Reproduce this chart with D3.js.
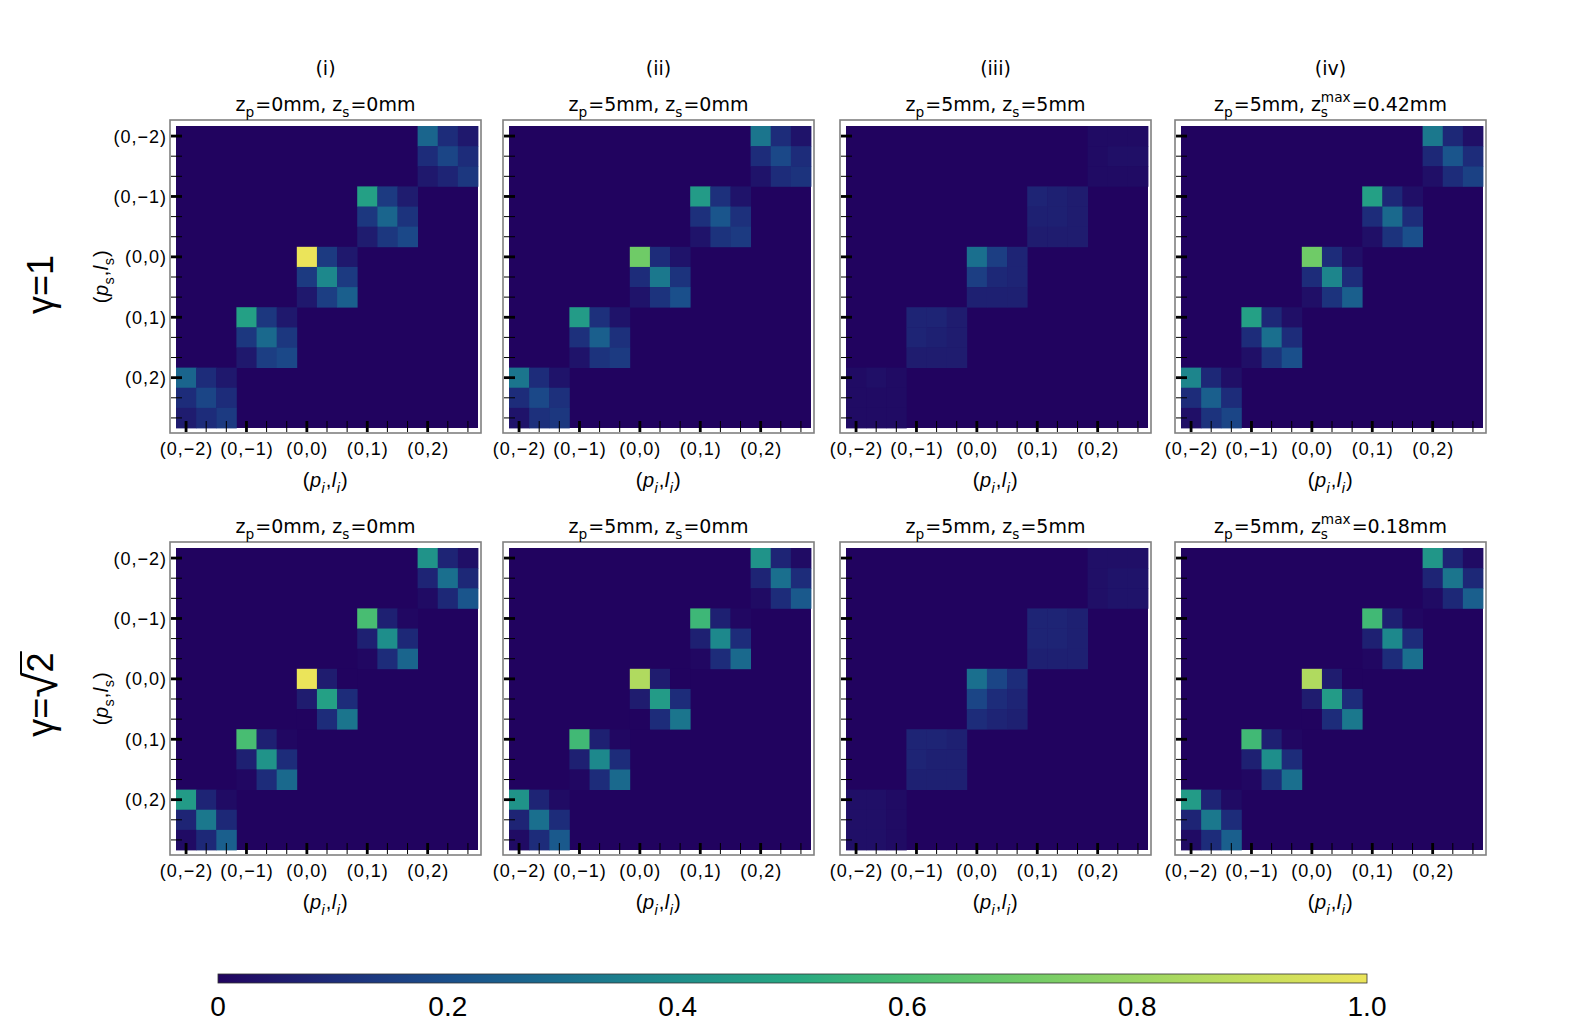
<!DOCTYPE html>
<html><head><meta charset="utf-8">
<script src="https://cdn.jsdelivr.net/npm/d3@7"></script>
<style>body{margin:0;background:#fff}</style>
</head><body>
<svg id="chart" width="1578" height="1036"></svg>
<script>
// ---------------- DATA ----------------
const groupLabels = ["(0,\u22122)", "(0,\u22121)", "(0,0)", "(0,1)", "(0,2)"];
const subLabels = ["a", "b", "c"]; // three sub-modes per (p,l) group
const columnHeaders = ["(i)", "(ii)", "(iii)", "(iv)"];
const colorbarTicks = [0, 0.2, 0.4, 0.6, 0.8, 1.0];
const colorbarTickLabels = ["0", "0.2", "0.4", "0.6", "0.8", "1.0"];
// panel titles: [zp value, zs label kind, zs value]
const titlesRow1 = [["0mm", "s", "0mm"], ["5mm", "s", "0mm"], ["5mm", "s", "5mm"], ["5mm", "max", "0.42mm"]];
const titlesRow2 = [["0mm", "s", "0mm"], ["5mm", "s", "0mm"], ["5mm", "s", "5mm"], ["5mm", "max", "0.18mm"]];

// Each panel: 5 diagonal 3x3 blocks, listed by signal group (p_s,l_s) = (0,-2) ... (0,2)
// each block is row-major 3x3
const g1_i = [
  [0.27,0.10,0.05, 0.10,0.17,0.10, 0.05,0.08,0.13],
  [0.47,0.14,0.06, 0.13,0.27,0.12, 0.06,0.13,0.18],
  [1.00,0.14,0.05, 0.14,0.38,0.14, 0.05,0.15,0.25],
  [0.47,0.13,0.05, 0.13,0.28,0.13, 0.05,0.15,0.18],
  [0.27,0.10,0.05, 0.10,0.17,0.10, 0.06,0.10,0.14]
];
const g1_ii = [
  [0.32,0.10,0.04, 0.10,0.18,0.10, 0.04,0.10,0.12],
  [0.45,0.11,0.04, 0.11,0.22,0.11, 0.04,0.12,0.14],
  [0.70,0.10,0.04, 0.10,0.33,0.12, 0.04,0.12,0.20],
  [0.45,0.11,0.04, 0.11,0.25,0.11, 0.04,0.12,0.14],
  [0.32,0.10,0.04, 0.10,0.18,0.11, 0.04,0.11,0.13]
];
const g1_iii = [
  [0.02,0.02,0.02, 0.02,0.03,0.03, 0.02,0.02,0.02],
  [0.08,0.07,0.06, 0.07,0.07,0.06, 0.06,0.06,0.06],
  [0.30,0.15,0.08, 0.15,0.09,0.08, 0.07,0.07,0.07],
  [0.08,0.08,0.06, 0.08,0.07,0.06, 0.06,0.06,0.06],
  [0.02,0.03,0.02, 0.02,0.02,0.02, 0.02,0.02,0.02]
];
const g1_iv = [
  [0.33,0.09,0.03, 0.09,0.22,0.10, 0.03,0.10,0.16],
  [0.47,0.09,0.03, 0.10,0.28,0.10, 0.03,0.12,0.20],
  [0.70,0.10,0.03, 0.10,0.37,0.10, 0.03,0.12,0.25],
  [0.47,0.09,0.03, 0.10,0.30,0.10, 0.03,0.12,0.20],
  [0.37,0.09,0.03, 0.10,0.25,0.10, 0.03,0.12,0.17]
];
const g2_i = [
  [0.42,0.08,0.03, 0.08,0.30,0.09, 0.02,0.09,0.22],
  [0.60,0.07,0.01, 0.07,0.40,0.09, 0.01,0.10,0.27],
  [1.00,0.06,0.00, 0.06,0.47,0.10, 0.00,0.10,0.32],
  [0.60,0.07,0.01, 0.07,0.42,0.10, 0.01,0.10,0.28],
  [0.45,0.08,0.02, 0.08,0.33,0.09, 0.02,0.09,0.25]
];
const g2_ii = [
  [0.42,0.08,0.02, 0.08,0.30,0.10, 0.02,0.10,0.23],
  [0.57,0.07,0.01, 0.07,0.38,0.10, 0.01,0.10,0.28],
  [0.85,0.06,0.00, 0.06,0.45,0.10, 0.00,0.10,0.32],
  [0.58,0.07,0.01, 0.07,0.38,0.10, 0.01,0.10,0.28],
  [0.42,0.08,0.02, 0.08,0.30,0.10, 0.02,0.10,0.23]
];
const g2_iii = [
  [0.03,0.03,0.03, 0.03,0.04,0.04, 0.03,0.04,0.04],
  [0.08,0.08,0.07, 0.08,0.08,0.07, 0.07,0.07,0.07],
  [0.30,0.17,0.10, 0.17,0.10,0.08, 0.10,0.08,0.07],
  [0.08,0.08,0.07, 0.08,0.07,0.07, 0.07,0.07,0.07],
  [0.03,0.03,0.02, 0.03,0.03,0.02, 0.03,0.03,0.02]
];
const g2_iv = [
  [0.43,0.08,0.02, 0.08,0.32,0.09, 0.02,0.09,0.25],
  [0.58,0.07,0.01, 0.07,0.38,0.10, 0.01,0.10,0.30],
  [0.85,0.06,0.00, 0.06,0.45,0.10, 0.00,0.10,0.33],
  [0.58,0.07,0.01, 0.07,0.40,0.10, 0.01,0.10,0.30],
  [0.45,0.08,0.02, 0.08,0.33,0.10, 0.02,0.10,0.25]
];
const panelsRow1 = [g1_i, g1_ii, g1_iii, g1_iv];
const panelsRow2 = [g2_i, g2_ii, g2_iii, g2_iv];

// ---------------- STYLE / LAYOUT ----------------
const colorStops = ["#21035f","#1d2c7a","#1a4f8b","#1a6f8e","#1e8e8b","#27a882","#48bd72","#6fcb67","#9ad562","#c5de5c","#ebe45a"];
const interp = d3.piecewise(d3.interpolateRgb, colorStops);
const color = d3.scaleSequential(interp).domain([0, 1]);

const FONT = "Liberation Sans, Arial, sans-serif";
const svg = d3.select("#chart");
const frameX = [170, 503, 840, 1175];
const frameY = [120, 542];
const frameW = 311, frameH = 313, pad = 6, plotSize = 302;

// 15 categories: each group has 3 sub-modes
const cats = [];
groupLabels.forEach((g, gi) => subLabels.forEach((s, si) => cats.push(gi * 3 + si)));

function buildCells(blocks) {
  const cells = [];
  blocks.forEach((blk, g) => {
    const cg = 4 - g; // idler group anti-correlated with signal group
    for (let r = 0; r < 3; r++) for (let c = 0; c < 3; c++) {
      cells.push({ row: g * 3 + r, col: cg * 3 + c, v: blk[r * 3 + c] });
    }
  });
  return cells;
}

function richText(parent, x, y, parts, fs, family, anchor, ls) {
  const g = parent.append("g");
  let cx = 0;
  const items = [];
  parts.forEach(p => {
    if (p.t !== undefined) {
      const f = p.fs || fs;
      const t = g.append("text").attr("x", cx).attr("y", p.dy || 0)
        .attr("font-family", family).attr("font-size", f).attr("fill", "#000")
        .attr("letter-spacing", ls || 0)
        .attr("font-style", p.it ? "italic" : "normal").text(p.t);
      const w = t.node().getComputedTextLength();
      items.push({ node: t, x: cx, w });
      cx += w;
    } else {
      let w = 0;
      if (p.sub !== undefined) {
        const t = g.append("text").attr("x", cx).attr("y", fs * 0.3)
          .attr("font-family", family).attr("font-size", fs * 0.72).attr("fill", "#000")
          .attr("font-style", p.subIt ? "italic" : "normal").text(p.sub);
        w = Math.max(w, t.node().getComputedTextLength());
      }
      if (p.sup !== undefined) {
        const t = g.append("text").attr("x", cx).attr("y", -fs * 0.45)
          .attr("font-family", family).attr("font-size", fs * 0.72).attr("fill", "#000").text(p.sup);
        w = Math.max(w, t.node().getComputedTextLength());
      }
      items.push({ x: cx, w });
      cx += w + 1;
    }
  });
  const off = anchor === "middle" ? -cx / 2 : 0;
  g.attr("transform", `translate(${x + off},${y})`);
  return { g, width: cx, items };
}

function titleParts(t) {
  const zs = t[1] === "max" ? { sub: "s", sup: "max" } : { sub: "s" };
  return [{ t: "z" }, { sub: "p" }, { t: "=" + t[0] + ", z" }, zs, { t: "=" + t[2] }];
}

function drawPanel(blocks, fx, fy, title, showY) {
  const g = svg.append("g");
  const px = fx + pad, py = fy + pad;
  const x = d3.scaleBand().domain(cats).range([px, px + plotSize]);
  const y = d3.scaleBand().domain(cats).range([py, py + plotSize]);
  // zero-valued background of the matrix
  g.append("rect").attr("x", px).attr("y", py).attr("width", plotSize).attr("height", plotSize)
    .attr("fill", color(0));
  g.selectAll("rect.cell").data(buildCells(blocks)).join("rect")
    .attr("class", "cell")
    .attr("x", d => x(d.col)).attr("y", d => y(d.row))
    .attr("width", x.bandwidth() + 0.4).attr("height", y.bandwidth() + 0.4)
    .attr("fill", d => color(d.v));
  // frame
  g.append("rect").attr("x", fx).attr("y", fy).attr("width", frameW).attr("height", frameH)
    .attr("fill", "none").attr("stroke", "#808080").attr("stroke-width", 1.6);
  // ticks
  const bx = fx + 1, by = fy + frameH - 1;
  cats.forEach(c => {
    const major = c % 3 === 0;
    g.append("line").attr("x1", x(c) + x.bandwidth() / 2).attr("x2", x(c) + x.bandwidth() / 2)
      .attr("y1", by).attr("y2", by - 11).attr("stroke", "#000").attr("stroke-width", major ? 2.8 : 1);
    g.append("line").attr("y1", y(c) + y.bandwidth() / 2).attr("y2", y(c) + y.bandwidth() / 2)
      .attr("x1", bx).attr("x2", bx + 11).attr("stroke", "#000").attr("stroke-width", major ? 2.8 : 1);
  });
  // tick labels
  groupLabels.forEach((lab, gi) => {
    const c = gi * 3;
    g.append("text").attr("x", x(c) + x.bandwidth() / 2 + 0.5).attr("y", fy + frameH + 22)
      .attr("text-anchor", "middle").attr("font-family", FONT).attr("letter-spacing", 1)
      .attr("font-size", 18).text(lab);
    if (showY) {
      g.append("text").attr("x", fx - 3).attr("y", y(c) + y.bandwidth() / 2 + 6.5)
        .attr("text-anchor", "end").attr("font-family", FONT).attr("letter-spacing", 1)
        .attr("font-size", 18).text(lab);
    }
  });
  // x axis label (p_i, l_i)
  richText(g, fx + frameW / 2, fy + frameH + 54,
    [{ t: "(" }, { t: "p", it: true }, { sub: "i", subIt: true }, { t: "," }, { t: "l", it: true }, { sub: "i", subIt: true }, { t: ")" }],
    20, FONT, "middle", 0.5);
  // title
  richText(g, fx + frameW / 2, fy - 9, titleParts(title), 19, "DejaVu Sans, sans-serif", "middle");
  if (showY) {
    const yl = svg.append("g").attr("transform", `translate(108,${fy + frameH / 2}) rotate(-90)`);
    richText(yl, 0, 0,
      [{ t: "(" }, { t: "p", it: true }, { sub: "s" }, { t: "," }, { t: "l", it: true }, { sub: "s" }, { t: ")" }],
      20, FONT, "middle", 0.5);
  }
}

panelsRow1.forEach((p, i) => drawPanel(p, frameX[i], frameY[0], titlesRow1[i], i === 0));
panelsRow2.forEach((p, i) => drawPanel(p, frameX[i], frameY[1], titlesRow2[i], i === 0));

// column headers
columnHeaders.forEach((h, i) => {
  svg.append("text").attr("x", frameX[i] + frameW / 2).attr("y", 75)
    .attr("text-anchor", "middle").attr("font-family", "DejaVu Sans, sans-serif")
    .attr("font-size", 19).text(h);
});

// row labels
{
  const r1 = svg.append("g").attr("transform", `translate(53,${frameY[0] + frameH / 2 + 8}) rotate(-90)`);
  richText(r1, 0, 0, [{ t: "\u03b3=1" }], 36, FONT, "middle");
  const r2 = svg.append("g").attr("transform", `translate(53,${frameY[1] + frameH / 2 - 4}) rotate(-90)`);
  const rt = richText(r2, 0, 0, [{ t: "\u03b3=" }, { t: "\u221a", fs: 46, dy: 4 }, { t: "2" }], 36, FONT, "middle");
  // overline of the radical
  const it2 = rt.items[2];
  rt.g.append("line").attr("x1", it2.x - 2).attr("x2", it2.x + it2.w + 1).attr("y1", -32).attr("y2", -32)
    .attr("stroke", "#000").attr("stroke-width", 2);
}

// colorbar
{
  const cbX = d3.scaleLinear().domain([0, 1]).range([218, 1367]);
  const defs = svg.append("defs");
  const grad = defs.append("linearGradient").attr("id", "cbgrad");
  d3.range(0, 1.0001, 0.05).forEach(t => grad.append("stop").attr("offset", t).attr("stop-color", color(t)));
  svg.append("rect").attr("x", cbX(0)).attr("y", 974).attr("width", cbX(1) - cbX(0)).attr("height", 9)
    .attr("fill", "url(#cbgrad)").attr("stroke", "#333").attr("stroke-width", 0.8);
  colorbarTicks.forEach((t, i) => {
    svg.append("text").attr("x", cbX(t)).attr("y", 1016).attr("text-anchor", "middle")
      .attr("font-family", FONT).attr("font-size", 28).text(colorbarTickLabels[i]);
  });
}
</script>
</body></html>
